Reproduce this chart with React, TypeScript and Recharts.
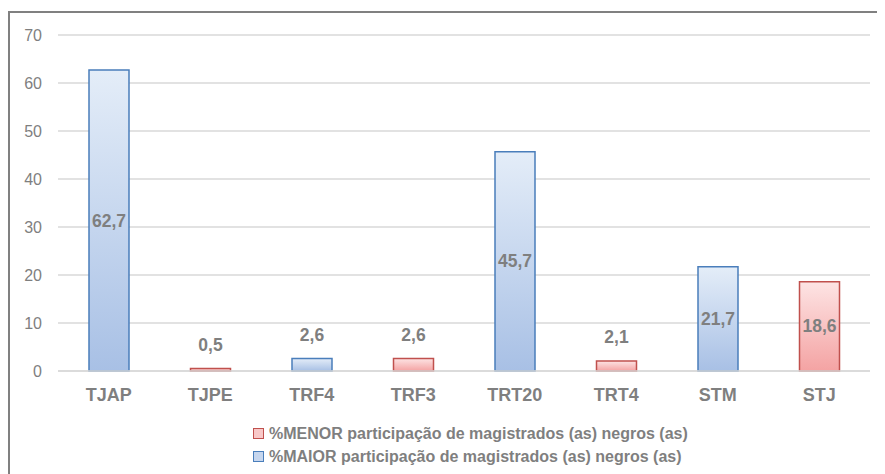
import React from "react";
import { BarChart, Bar, XAxis, YAxis, CartesianGrid, LabelList } from "recharts";

const categories = ["TJAP", "TJPE", "TRF4", "TRF3", "TRT20", "TRT4", "STM", "STJ"];
const maiorValues: (number | null)[] = [62.7, null, 2.6, null, 45.7, null, 21.7, null];
const menorValues: (number | null)[] = [null, 0.5, null, 2.6, null, 2.1, null, 18.6];
const yTicks = [0, 10, 20, 30, 40, 50, 60, 70];
const seriesNames = {
  menor: "%MENOR participação de magistrados (as) negros (as)",
  maior: "%MAIOR participação de magistrados (as) negros (as)",
};

const data = categories.map((c, i) => ({ name: c, maior: maiorValues[i], menor: menorValues[i] }));

const FONT = "'Liberation Sans', Arial, sans-serif";
const GRAY = "#7f7f7f";

const renderLabel = (props: any) => {
  const { x, y, width, height, value } = props;
  if (value === null || value === undefined) return null;
  const text = String(value).replace(".", ",");
  const cx = x + width / 2;
  const big = value > 10;
  const cy = big ? y + height / 2 : y - 24;
  return (
    <text x={cx} y={cy} textAnchor="middle" dominantBaseline="central" fill={GRAY} fontWeight="bold" fontSize={17.5} fontFamily={FONT}>
      {text}
    </text>
  );
};

const legendItems = [
  { key: "menor", fill: "#f8c8c8", stroke: "#c0504d" },
  { key: "maior", fill: "#c6d6ee", stroke: "#4a7ebb" },
];

export default function App() {
  return (
    <div style={{ position: "relative", width: 877, height: 466, background: "#fff" }}>
      <div style={{ position: "absolute", left: 0, top: 3, right: 0, bottom: 0, borderLeft: "2px solid #808080", borderTop: "2px solid #808080" }} />
      <div style={{ position: "absolute", left: 0, top: 0 }}>
        <BarChart width={877} height={466} data={data} margin={{ top: 27, right: 15, left: 0, bottom: 73 }}>
          <defs>
            <linearGradient id="gBlue" x1="0" y1="0" x2="0" y2="1">
              <stop offset="0%" stopColor="#e4edf8" />
              <stop offset="100%" stopColor="#a8c0e5" />
            </linearGradient>
            <linearGradient id="gRed" x1="0" y1="0" x2="0" y2="1">
              <stop offset="0%" stopColor="#fde4e4" />
              <stop offset="100%" stopColor="#f4a3a3" />
            </linearGradient>
          </defs>
          <CartesianGrid vertical={false} stroke="#d9d9d9" strokeWidth={1.5} />
          <XAxis
            dataKey="name"
            axisLine={{ stroke: "#d9d9d9", strokeWidth: 1.5 }}
            tickLine={false}
            tickSize={0}
            tickMargin={17}
            height={30}
            tick={{ fill: GRAY, fontSize: 18, fontWeight: "bold", fontFamily: FONT }}
          />
          <YAxis
            domain={[0, 70]}
            ticks={yTicks}
            width={50}
            axisLine={false}
            tickLine={false}
            tickSize={0}
            tickMargin={16}
            tick={{ fill: GRAY, fontSize: 16, fontFamily: FONT }}
          />
          <Bar dataKey="menor" name={seriesNames.menor} stackId="a" barSize={40} fill="url(#gRed)" stroke="#c0504d" strokeWidth={1.5} isAnimationActive={false}>
            <LabelList dataKey="menor" content={renderLabel} />
          </Bar>
          <Bar dataKey="maior" name={seriesNames.maior} stackId="a" barSize={40} fill="url(#gBlue)" stroke="#4a7ebb" strokeWidth={1.5} isAnimationActive={false}>
            <LabelList dataKey="maior" content={renderLabel} />
          </Bar>
        </BarChart>
      </div>
      <div style={{ position: "absolute", left: 245, top: 414, fontFamily: FONT, fontSize: 16, fontWeight: "bold", color: GRAY, lineHeight: "23px" }}>
        {legendItems.map((s) => (
          <div key={s.key} style={{ display: "flex", alignItems: "center" }}>
            <span style={{ display: "inline-block", width: 9, height: 9, background: s.fill, border: `1.5px solid ${s.stroke}`, marginRight: 5 }} />
            <span>{(seriesNames as any)[s.key]}</span>
          </div>
        ))}
      </div>
    </div>
  );
}
